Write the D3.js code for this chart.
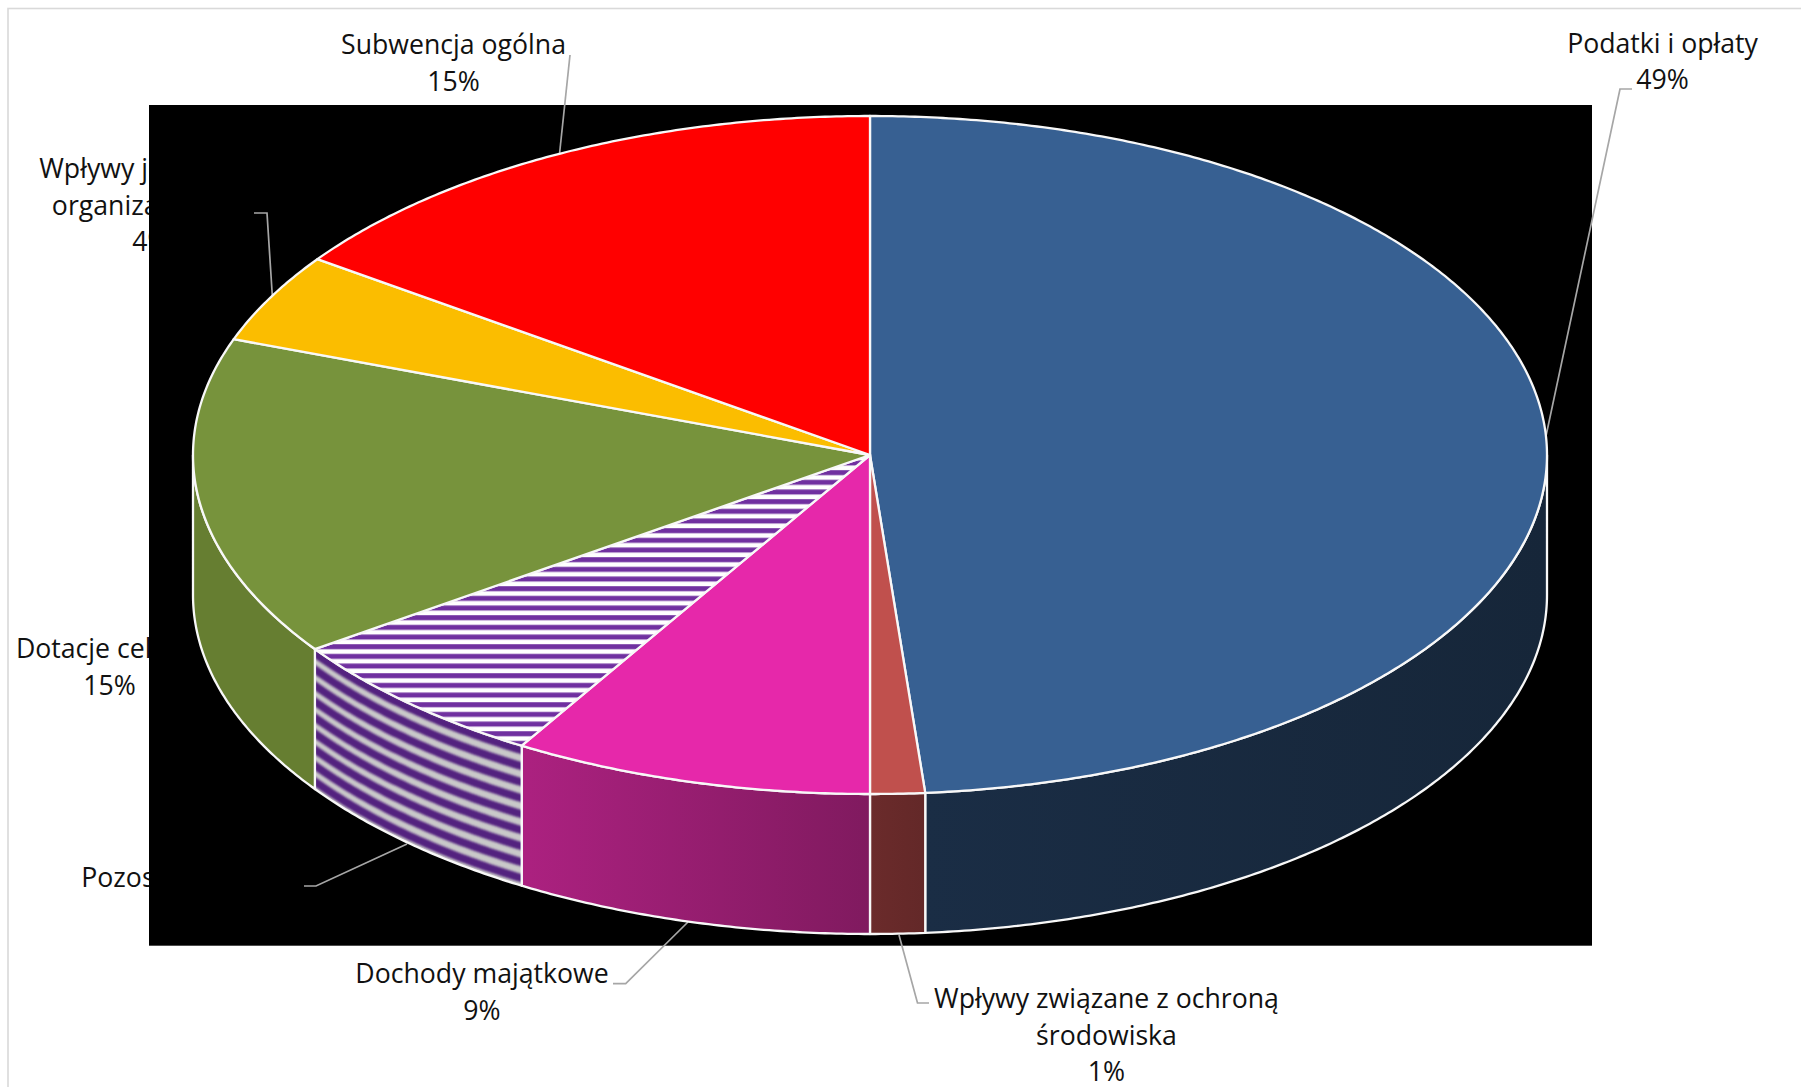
<!DOCTYPE html>
<html><head><meta charset="utf-8">
<script src="https://cdn.jsdelivr.net/npm/d3@7"></script>
<style>html,body{margin:0;padding:0;background:#fff;overflow:hidden}svg{display:block}
text{font-family:"Open Sans",sans-serif;font-size:26.67px;fill:#111}</style></head>
<body><svg id="c" width="1801" height="1087"></svg>
<script>
const categories=["Podatki i opłaty","Wpływy związane z ochroną środowiska","Dochody majątkowe","Pozostałe dochody","Dotacje celowe","Wpływy jednostek organizacyjnych","Subwencja ogólna"];
const shares=[48.7,1.3,8.6,6.7,15.25,4.25,15.2];
const percentLabels=["49%","1%","9%","7%","15%","4%","15%"];
const topColors=["#376092","#c0504d","#e628aa","#pattern","#77933c","#fbbd00","#ff0000"];
const sideStart=["#1a2d45","#6b2b2b","#ac2180","#pattern","#667e31","#000","#000"];
const sideEnd=["#162639","#632828","#801a5f","#pattern","#667e31","#000","#000"];
const labelLines=[["Podatki i opłaty","49%"],["Wpływy związane z ochroną","środowiska","1%"],["Dochody majątkowe","9%"],["Pozostałe dochody","7%"],["Dotacje celowe","15%"],["Wpływy jednostek","organizacyjnych","4%"],["Subwencja ogólna","15%"]];
const labelCx=[1662.5,1106.5,482,198,109.5,151,453.5];
const labelY=[52.7,1008,983,887,658,178,54];
const leaders=[[[1632,89],[1620,89],[1546,436]],[[929,1003],[917.5,1003],[899,935]],[[613,983.7],[625.7,983.7],[688,922]],[[304,886],[316,886],[407,844]],[],[[254,213],[267,213],[272.4,297]],[[570,55],[559.5,154]]];

const svg=d3.select("#c");
const x=d3.scaleLinear().domain([-1,1]).range([193,1547]);
const y=d3.scaleLinear().domain([-1,1]).range([116,794]);
const depth=140, lh=36.5;
const pie=d3.pie().sort(null).value(d=>d)(shares);
const px=a=>x(Math.sin(a)), py=a=>y(-Math.cos(a));
const line=d3.line();
const arcPts=(a0,a1,off=0)=>{const n=Math.max(2,Math.ceil((a1-a0)*120));return d3.range(n+1).map(i=>{const a=a0+(a1-a0)*i/n;return [px(a),py(a)+off]})};

const defs=svg.append("defs");
// top stripe fill
const pat=defs.append("pattern").attr("id","stripes").attr("patternUnits","userSpaceOnUse").attr("width",10).attr("height",9.67);
pat.append("rect").attr("width",10).attr("height",9.67).attr("fill","#fff");
pat.append("rect").attr("y",6).attr("width",10).attr("height",3.67).attr("fill","#7030a0");
pat.append("rect").attr("y",0).attr("width",10).attr("height",1.33).attr("fill","#7030a0");
defs.append("filter").attr("id","soft").append("feGaussianBlur").attr("stdDeviation",0.8);

// frame
svg.append("rect").attr("x",8).attr("y",8.5).attr("width",2000).attr("height",2000).attr("fill","#fff").attr("stroke","#d9d9d9").attr("stroke-width",1.6);

// labels, under the black plot area as in the reference
const lab=svg.append("g");
labelLines.forEach((ls,i)=>ls.forEach((t,j)=>lab.append("text").attr("x",labelCx[i]).attr("y",labelY[i]+j*lh).attr("text-anchor","middle").text(t)));

svg.append("rect").attr("x",149).attr("y",105).attr("width",1443).attr("height",840.7).attr("fill","#000");

leaders.forEach(p=>{if(p.length)svg.append("path").attr("d",line(p)).attr("fill","none").attr("stroke","#a6a6a6").attr("stroke-width",1.7)});

const edge="#f8f8f8";
// side walls
pie.forEach((d,i)=>{
  const a0=Math.max(d.startAngle,Math.PI/2), a1=Math.min(d.endAngle,Math.PI*1.5);
  if(a1<=a0) return;
  const top=arcPts(a0,a1), bot=arcPts(a0,a1,depth).reverse();
  const shape=line(top.concat(bot))+"Z";
  let fill;
  if(topColors[i]==="#pattern"){
    const id="wall"+i;
    defs.append("clipPath").attr("id",id).append("path").attr("d",shape);
    const g=svg.append("g").attr("clip-path",`url(#${id})`);
    g.append("path").attr("d",shape).attr("fill","#c9c9c9");
    const s=g.append("g").attr("filter","url(#soft)");
    d3.range(-1,10).forEach(k=>s.append("path").attr("d",line(arcPts(a0-0.05,a1+0.05,k*16+4.5))).attr("fill","none").attr("stroke","#52217f").attr("stroke-width",8));
    fill="none";
  } else {
    const id="grad"+i;
    const g=defs.append("linearGradient").attr("id",id).attr("gradientUnits","userSpaceOnUse").attr("x1",top[top.length-1][0]).attr("x2",top[0][0]).attr("y1",0).attr("y2",0);
    g.append("stop").attr("offset",0).attr("stop-color",sideStart[i]);
    g.append("stop").attr("offset",1).attr("stop-color",sideEnd[i]);
    fill=`url(#${id})`;
  }
  svg.append("path").attr("d",shape).attr("fill",fill).attr("stroke",edge).attr("stroke-width",2.3).attr("stroke-linejoin","round");
});
// top faces
pie.forEach((d,i)=>{
  const pts=[[x(0),y(0)]].concat(arcPts(d.startAngle,d.endAngle));
  svg.append("path").attr("d",line(pts)+"Z").attr("fill",topColors[i]==="#pattern"?"url(#stripes)":topColors[i]).attr("stroke",edge).attr("stroke-width",2.3).attr("stroke-linejoin","round");
});
</script></body></html>
